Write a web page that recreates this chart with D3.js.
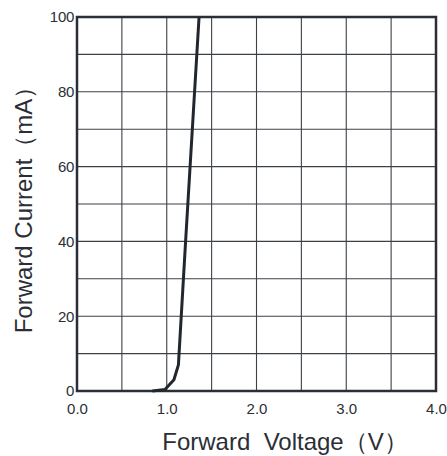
<!DOCTYPE html>
<html><head><meta charset="utf-8">
<script src="https://cdn.jsdelivr.net/npm/d3@7"></script>
<style>body{margin:0;background:#fff;} svg{display:block;}</style>
</head><body>
<svg id="c" width="447" height="456"></svg>
<script>
const voltage = [0.84, 0.98, 1.08, 1.13, 1.21, 1.36];
const current = [0, 0.4, 3, 7, 40, 100];
const xTickLabels = ["0.0", "1.0", "2.0", "3.0", "4.0"];
const yTickLabels = ["0", "20", "40", "60", "80", "100"];
const xGrid = [0.5, 1.0, 1.5, 2.0, 2.5, 3.0, 3.5];
const yGrid = [10, 20, 30, 40, 50, 60, 70, 80, 90];

const svg = d3.select("#c");
const L = 77, R = 436, T = 17, B = 391;
const x = d3.scaleLinear().domain([0, 4]).range([L, R]);
const y = d3.scaleLinear().domain([0, 100]).range([B, T]);
const font = "'Liberation Sans', Arial, sans-serif";
const textCol = "#2b2f35";

// grid
svg.append("g").selectAll("line").data(xGrid).join("line")
  .attr("x1", d => x(d)).attr("x2", d => x(d)).attr("y1", T).attr("y2", B)
  .attr("stroke", "#3c4148").attr("stroke-width", 1.1);
svg.append("g").selectAll("line").data(yGrid).join("line")
  .attr("y1", d => y(d)).attr("y2", d => y(d)).attr("x1", L).attr("x2", R)
  .attr("stroke", "#3c4148").attr("stroke-width", 1.1);

// frame
svg.append("rect").attr("x", L).attr("y", T).attr("width", R - L).attr("height", B - T)
  .attr("fill", "none").attr("stroke", "#2a2f36").attr("stroke-width", 2.5);

// axes (tick labels)
const xAxis = d3.axisBottom(x).tickValues(xTickLabels.map(Number))
  .tickFormat((d, i) => xTickLabels[i]).tickSize(0).tickPadding(12);
const gx = svg.append("g").attr("transform", `translate(0,${B})`).call(xAxis);
gx.select(".domain").remove();
gx.selectAll("text").attr("font-family", font).attr("font-size", 15).attr("fill", textCol);

const yAxis = d3.axisLeft(y).tickValues(yTickLabels.map(Number))
  .tickFormat((d, i) => yTickLabels[i]).tickSize(0).tickPadding(3);
const gy = svg.append("g").attr("transform", `translate(${L},0)`).call(yAxis);
gy.select(".domain").remove();
gy.selectAll("text").attr("font-family", font).attr("font-size", 15).attr("fill", textCol)
  .style("letter-spacing", "-0.3px");

// curve
const pts = voltage.map((v, i) => [v, current[i]]);
svg.append("path").datum(pts)
  .attr("d", d3.line().x(d => x(d[0])).y(d => y(d[1])))
  .attr("fill", "none").attr("stroke", "#22272e").attr("stroke-width", 3)
  .attr("stroke-linejoin", "round");

// titles
svg.append("text").attr("x", 285).attr("y", 450).attr("text-anchor", "middle")
  .attr("font-family", font).attr("font-size", 24).attr("fill", textCol)
  .style("white-space", "pre")
  .text("Forward  Voltage（V）");
svg.append("text").attr("transform", `translate(32,${(T + B) / 2}) rotate(-90)`)
  .attr("text-anchor", "middle")
  .attr("font-family", font).attr("font-size", 24).attr("fill", textCol)
  .text("Forward Current（mA）");
</script>
</body></html>
